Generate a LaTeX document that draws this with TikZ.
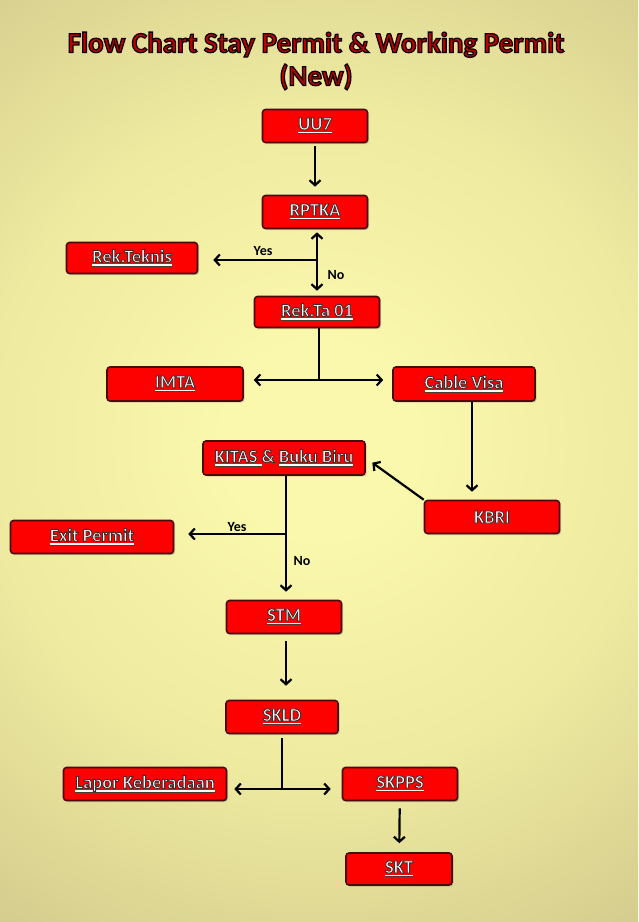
\documentclass[tikz,border=0pt]{standalone}
\usepackage{fontspec}
\setmainfont{Carlito}
\definecolor{FCRed}{HTML}{FD0000}
\definecolor{FCEdge}{HTML}{4A0A0A}
\definecolor{FCTitle}{HTML}{C00000}
\definecolor{FCShade}{HTML}{4A3A3A}
\definecolor{FCBgIn}{RGB}{250,248,172}
\definecolor{FCBgMid}{RGB}{238,234,160}
\definecolor{FCBgLow}{RGB}{205,196,136}
\definecolor{FCBgDark}{RGB}{182,172,120}
\definecolor{FCBgOut}{RGB}{158,147,104}
\usetikzlibrary{positioning,arrows.meta,shadows}
\pgfdeclareradialshading{fcglow}{\pgfpoint{0bp}{0bp}}{color(0bp)=(FCBgIn); color(4bp)=(FCBgIn); color(14bp)=(FCBgMid); color(27bp)=(FCBgLow); color(38bp)=(FCBgDark); color(50bp)=(FCBgOut)}
% outlined text: fill + stroke render mode
\newcommand{\fco}[1]{\special{pdf:literal direct 2 Tr 0.9 w 0.25 0.18 0.18 RG}#1\special{pdf:literal direct 0 Tr}}
\newsavebox{\fcubox}
\newcommand{\fcu}[1]{\sbox{\fcubox}{\fco{#1}}%
  \rlap{\textcolor{FCShade}{\rule[-4.2pt]{\wd\fcubox}{1.2pt}}}%
  \rlap{\rule[-3.2pt]{\wd\fcubox}{1.3pt}}\usebox{\fcubox}}
\newcommand{\fctitle}[1]{\special{pdf:literal direct 2 Tr 1.3 w 0.05 0 0 RG}#1\special{pdf:literal direct 0 Tr}}

\begin{document}
\begin{tikzpicture}[x=1pt,y=-1pt,
    fcbox/.style={draw=FCEdge, line width=1.6pt, fill=FCRed, rounded corners=3pt,
      minimum height=33pt, inner sep=0pt, text=white, font=\fontsize{18.5}{20}\selectfont\bfseries,
      drop shadow={shadow xshift=1.5pt, shadow yshift=-1.5pt, opacity=0.35}},
    fcarrow/.style={line width=2.2pt, -{Straight Barb[length=5pt,width=11pt]}},
    fcline/.style={line width=2.2pt},
    fclabel/.style={font=\fontsize{14}{16}\selectfont\bfseries}]
    % background
    \begin{scope}
      \clip (0,0) rectangle (638,922);
      \shade[shading=fcglow] (-280,-160) rectangle (920,1040);
    \end{scope}
    \useasboundingbox (0,0) rectangle (638,922);
    \node[font=\fontsize{29}{33}\selectfont\bfseries, text=FCTitle, align=center] (title) at (316,61)
      {\fctitle{Flow Chart Stay Permit \& Working Permit}\\\fctitle{(New)}};
    % boxes
    \node[fcbox, minimum width=105pt] (uu7) at (315,126) {\fcu{UU7}};
    \node[fcbox, minimum width=105pt] (rptka) at (315,212) {\fcu{RPTKA}};
    \node[fcbox, minimum width=131pt, minimum height=31pt] (rekteknis) at (132,258) {\fcu{Rek.Teknis}};
    \node[fcbox, minimum width=125pt, minimum height=31pt] (rekta) at (317,312) {\fcu{Rek.Ta 01}};
    \node[fcbox, minimum width=136pt, minimum height=34pt] (imta) at (175,384) {\fcu{IMTA}};
    \node[fcbox, minimum width=142pt, minimum height=34pt] (cablevisa) at (464,384) {\fcu{Cable Visa}};
    \node[fcbox, minimum width=162pt, minimum height=34pt] (kitas) at (284,458) {\fcu{KITAS }\fco{\&} \fcu{Buku Biru}};
    \node[fcbox, minimum width=135pt] (kbri) at (492,517) {\fco{KBRI}};
    \node[fcbox, minimum width=163pt] (exitpermit) at (92,537) {\fcu{Exit Permit}};
    \node[fcbox, minimum width=115pt] (stm) at (284,617) {\fcu{STM}};
    \node[fcbox, minimum width=112pt] (skld) at (282,717) {\fcu{SKLD}};
    \node[fcbox, minimum width=163pt] (lapor) at (145,784) {\fcu{Lapor Keberadaan}};
    \node[fcbox, minimum width=115pt] (skpps) at (400,784) {\fcu{SKPPS}};
    \node[fcbox, minimum width=106pt, minimum height=32pt] (skt) at (399,869) {\fcu{SKT}};
    % connectors
    \draw[fcarrow, shorten <=3pt, shorten >=8pt] (uu7) -- (rptka);
    \coordinate (jrptka) at (317,260);
    \draw[fcarrow, shorten >=3pt] (jrptka) -- (jrptka |- rptka.south);
    \draw[fcarrow, shorten >=5pt] (jrptka) -- (jrptka |- rekta.north);
    \draw[fcarrow, shorten >=15pt] (jrptka) -- (jrptka -| rekteknis.east);
    \node[fclabel] (yes1) at (263,251) {Yes};
    \node[fclabel] (no1) at (336,275) {No};
    \coordinate (jrekta) at (319,380);
    \draw[fcline] (jrekta |- rekta.south) -- (jrekta);
    \draw[fcarrow, shorten >=10pt] (jrekta) -- (jrekta -| imta.east);
    \draw[fcarrow, shorten >=9pt] (jrekta) -- (jrekta -| cablevisa.west);
    \draw[fcarrow, shorten >=8pt] ([xshift=8pt]cablevisa.south) -- ([xshift=8pt]cablevisa.south |- kbri.north);
    \draw[fcarrow, shorten >=8pt] (kbri.north west) -- (kitas.east);
    \coordinate (jkitas) at (286,534);
    \draw[fcline] (jkitas |- kitas.south) -- (jkitas);
    \draw[fcarrow, shorten >=14pt] (jkitas) -- (jkitas -| exitpermit.east);
    \draw[fcarrow, shorten >=8pt] (jkitas) -- (jkitas |- stm.north);
    \node[fclabel] (yes2) at (237,527) {Yes};
    \node[fclabel] (no2) at (302,561) {No};
    \draw[fcarrow, shorten <=7pt, shorten >=14pt] (jkitas |- stm.south) -- (jkitas |- skld.north);
    \coordinate (jskld) at (282,789);
    \draw[fcline, shorten <=4pt] (skld.south) -- (jskld);
    \draw[fcarrow, shorten >=7pt] (jskld) -- (jskld -| lapor.east);
    \draw[fcarrow, shorten >=11pt] (jskld) -- (jskld -| skpps.west);
    \draw[fcarrow, shorten <=7pt, shorten >=9pt] (skpps) -- (skt);
\end{tikzpicture}
\end{document}
